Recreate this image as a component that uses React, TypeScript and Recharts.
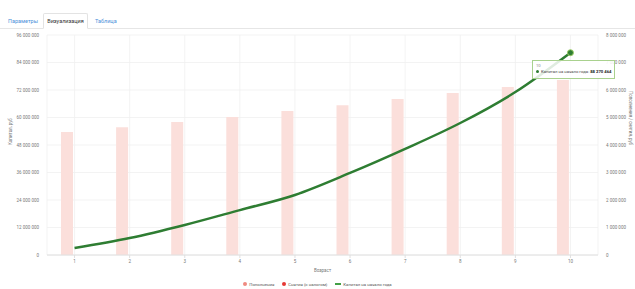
import React from 'react';
import {
  ComposedChart, Bar, Line, XAxis, YAxis, CartesianGrid, Tooltip, Legend,
} from 'recharts';

const years = [1, 2, 3, 4, 5, 6, 7, 8, 9, 10];
const capital = [3050000, 7400000, 13100000, 19600000, 26200000, 35800000, 46300000, 57600000, 71100000, 88270464];
const contributions = [4470000, 4650000, 4840000, 5020000, 5240000, 5450000, 5670000, 5890000, 6110000, 6360000];
const withdrawals = [0, 0, 0, 0, 0, 0, 0, 0, 0, 0];
const leftTicks = [0, 12000000, 24000000, 36000000, 48000000, 60000000, 72000000, 84000000, 96000000];
const rightTicks = [0, 1000000, 2000000, 3000000, 4000000, 5000000, 6000000, 7000000, 8000000];
const tabs = ['Параметры', 'Визуализация', 'Таблица'];
const seriesNames = ['Пополнения', 'Снятия (с налогом)', 'Капитал на начало года'];

const data = years.map((y, i) => ({
  year: y,
  contrib: contributions[i],
  withdraw: withdrawals[i],
  capital: capital[i],
}));

const fmt = (v: number) => String(Math.round(v)).replace(/\B(?=(\d{3})+(?!\d))/g, '\u00A0');

const FONT = 'Roboto, "Noto Sans", sans-serif';

const TipContent = (props: any) => {
  const { active, payload, label } = props;
  if (!active || !payload || !payload.length) return null;
  const p = payload.find((x: any) => x.dataKey === 'capital') || payload[0];
  return (
    <div style={{
      width: 83, height: 19, boxSizing: 'border-box', border: '1px solid #a9d18e',
      background: 'rgba(255,255,255,0.85)', fontFamily: FONT, fontSize: 4.2, color: '#444',
      padding: '2px 3px', lineHeight: '6px', whiteSpace: 'nowrap',
    }}>
      <div style={{ color: '#888' }}>{label}</div>
      <div>
        <span style={{ display: 'inline-block', width: 3, height: 3, borderRadius: 2, background: '#2e7d32', marginRight: 2, verticalAlign: 'middle' }} />
        {seriesNames[2]}: <b style={{ color: '#222' }}>{fmt(p.value)}</b>
      </div>
    </div>
  );
};

const LegendContent = () => {
  const items = [
    { name: seriesNames[0], color: '#ef8a80', type: 'dot' },
    { name: seriesNames[1], color: '#e53935', type: 'dot' },
    { name: seriesNames[2], color: '#43a047', type: 'line' },
  ];
  return (
    <div style={{ height: 10, display: 'flex', justifyContent: 'center', alignItems: 'center', fontFamily: FONT, fontSize: 4.3, color: '#555' }}>
      {items.map((it) => (
        <span key={it.name} style={{ display: 'inline-flex', alignItems: 'center', margin: '0 4px' }}>
          {it.type === 'dot' ? (
            <span style={{ display: 'inline-block', width: 4, height: 4, borderRadius: 2, background: it.color, marginRight: 2 }} />
          ) : (
            <span style={{ display: 'inline-block', width: 6, height: 1.5, background: it.color, marginRight: 2 }} />
          )}
          {it.name}
        </span>
      ))}
    </div>
  );
};

export default function App() {
  return (
    <div style={{ position: 'fixed', left: 0, top: 0, width: 635, height: 289, background: '#fff', overflow: 'hidden', fontFamily: FONT }}>
      <div style={{ position: 'absolute', left: 0, top: 28, width: 635, borderTop: '1px solid #e6e6e6' }} />
      <div style={{ position: 'absolute', left: 8, top: 18, fontSize: 5.5, color: '#4a90d9' }}>{tabs[0]}</div>
      <div style={{
        position: 'absolute', left: 43, top: 13, width: 45, height: 16, boxSizing: 'border-box',
        border: '1px solid #e3e3e3', borderBottom: '1px solid #fff', borderRadius: '2px 2px 0 0', background: '#fff',
        fontSize: 5.5, color: '#333', textAlign: 'center', lineHeight: '14px',
      }}>{tabs[1]}</div>
      <div style={{ position: 'absolute', left: 95, top: 18, fontSize: 5.5, color: '#4a90d9' }}>{tabs[2]}</div>
      <div style={{ position: 'absolute', left: 0, top: 0 }}>
        <ComposedChart width={635} height={289} data={data} margin={{ top: 35, right: 0, bottom: 0, left: 0 }} barGap={3} barSize={12}>
          <CartesianGrid stroke="#f0f0f0" strokeWidth={0.8} vertical={true} yAxisId="left" />
          <XAxis
            dataKey="year"
            height={24}
            axisLine={{ stroke: '#e0e0e0' }}
            tickLine={{ stroke: '#e0e0e0' }}
            tickSize={3}
            tickMargin={2}
            tick={{ fontSize: 4.5, fill: '#777', fontFamily: FONT }}
            label={{ value: 'Возраст', position: 'insideBottom', offset: 7, fontSize: 4.5, fill: '#777', fontFamily: FONT }}
          />
          <YAxis
            yAxisId="left"
            orientation="left"
            width={47}
            domain={[0, 96000000]}
            ticks={leftTicks}
            interval={0}
            axisLine={false}
            tickLine={false}
            tickFormatter={fmt}
            tick={{ fontSize: 4.5, fill: '#777', fontFamily: FONT }}
            label={{ value: 'Капитал, руб', angle: -90, position: 'insideLeft', offset: 10, fontSize: 4.5, fill: '#777', fontFamily: FONT }}
          />
          <YAxis
            yAxisId="right"
            orientation="right"
            width={37}
            domain={[0, 8000000]}
            ticks={rightTicks}
            interval={0}
            axisLine={false}
            tickLine={false}
            tickFormatter={fmt}
            tick={{ fontSize: 4.5, fill: '#777', fontFamily: FONT }}
            label={{ value: 'Пополнения / снятия, руб', angle: 90, position: 'insideRight', offset: 4, fontSize: 4.5, fill: '#777', fontFamily: FONT }}
          />
          <Tooltip
            content={<TipContent />}
            defaultIndex={9}
            position={{ x: 532, y: 60 }}
            cursor={false}
            isAnimationActive={false}
            wrapperStyle={{ outline: 'none' }}
          />
          <Legend verticalAlign="bottom" height={10} content={<LegendContent />} />
          <Bar yAxisId="right" dataKey="contrib" name={seriesNames[0]} fill="#fbdfdb" isAnimationActive={false} />
          <Bar yAxisId="right" dataKey="withdraw" name={seriesNames[1]} fill="#e53935" isAnimationActive={false} />
          <Line
            yAxisId="left"
            type="monotone"
            dataKey="capital"
            name={seriesNames[2]}
            stroke="#2e7d32"
            strokeWidth={2.5}
            dot={false}
            activeDot={{ r: 3, fill: '#2e7d32', stroke: '#9ccc65', strokeWidth: 1 }}
            isAnimationActive={false}
          />
        </ComposedChart>
      </div>
    </div>
  );
}
